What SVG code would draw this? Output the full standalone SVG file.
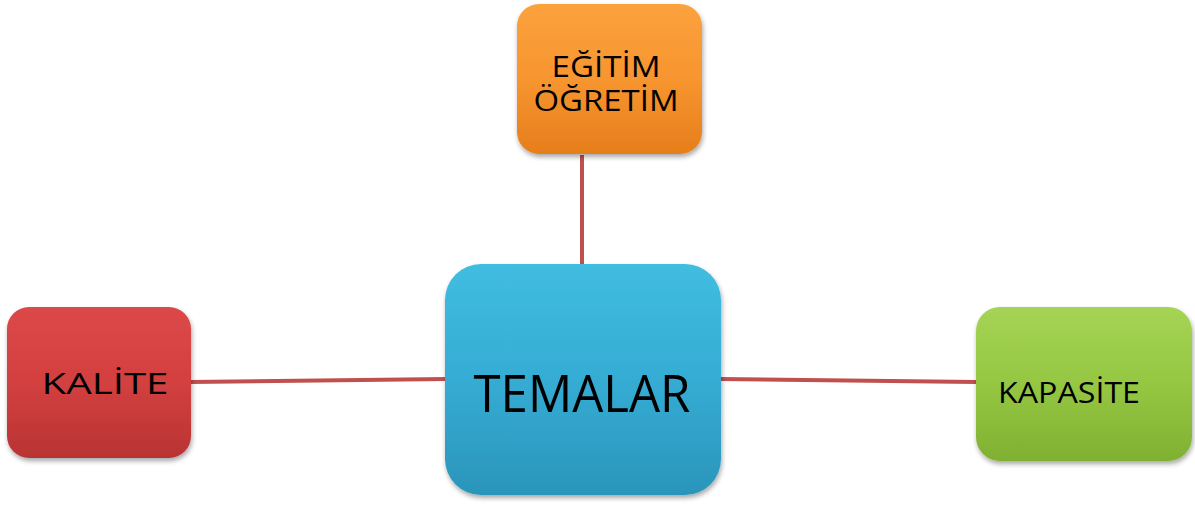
<svg xmlns="http://www.w3.org/2000/svg" width="1195" height="505" viewBox="0 0 1195 505">
<defs>
<linearGradient id="gO" x1="0" y1="0" x2="0" y2="1"><stop offset="0" stop-color="#fba23e"/><stop offset="0.5" stop-color="#f7952f"/><stop offset="1" stop-color="#e67e1c"/></linearGradient>
<linearGradient id="gB" x1="0" y1="0" x2="0" y2="1"><stop offset="0" stop-color="#41bde0"/><stop offset="0.5" stop-color="#35acd4"/><stop offset="1" stop-color="#2b95ba"/></linearGradient>
<linearGradient id="gR" x1="0" y1="0" x2="0" y2="1"><stop offset="0" stop-color="#dc4848"/><stop offset="0.5" stop-color="#d34040"/><stop offset="1" stop-color="#b93333"/></linearGradient>
<linearGradient id="gG" x1="0" y1="0" x2="0" y2="1"><stop offset="0" stop-color="#a5d455"/><stop offset="0.5" stop-color="#95c742"/><stop offset="1" stop-color="#80b032"/></linearGradient>
<filter id="sh" x="-10%" y="-10%" width="125%" height="125%"><feGaussianBlur in="SourceAlpha" stdDeviation="2.5"/><feOffset dx="1" dy="3"/><feComponentTransfer><feFuncA type="linear" slope="0.35"/></feComponentTransfer><feMerge><feMergeNode/><feMergeNode in="SourceGraphic"/></feMerge></filter>
</defs>
<style>
.lbl{font-family:"Open Sans","Noto Sans",sans-serif;fill:#000;}
.con{stroke:#c0504d;stroke-width:4;fill:none;}
</style>
<g id="connectors">
<line class="con" x1="582" y1="155" x2="582" y2="266"/>
<line class="con" x1="190" y1="382" x2="446" y2="379"/>
<line class="con" x1="720" y1="379" x2="976" y2="382"/>
</g>
<g id="n-egitim">
<rect x="517" y="4" width="185" height="150" rx="22" fill="url(#gO)" filter="url(#sh)"/>
<text class="lbl" font-size="29" text-anchor="middle"><tspan x="606" y="77" textLength="109" lengthAdjust="spacingAndGlyphs">EĞİTİM</tspan><tspan x="606" y="111" textLength="145" lengthAdjust="spacingAndGlyphs">ÖĞRETİM</tspan></text>
</g>
<g id="n-temalar">
<rect x="445" y="264" width="276" height="231" rx="36" fill="url(#gB)" filter="url(#sh)"/>
<text class="lbl" x="582" y="412" font-size="52" text-anchor="middle" textLength="217" lengthAdjust="spacingAndGlyphs">TEMALAR</text>
</g>
<g id="n-kalite">
<rect x="7" y="307" width="184" height="151" rx="22" fill="url(#gR)" filter="url(#sh)"/>
<text class="lbl" x="105" y="394" font-size="29" text-anchor="middle" textLength="127" lengthAdjust="spacingAndGlyphs">KALİTE</text>
</g>
<g id="n-kapasite">
<rect x="976" y="307" width="216" height="154" rx="24" fill="url(#gG)" filter="url(#sh)"/>
<text class="lbl" x="1069" y="403" font-size="29" text-anchor="middle" textLength="142" lengthAdjust="spacingAndGlyphs">KAPASİTE</text>
</g>
</svg>
